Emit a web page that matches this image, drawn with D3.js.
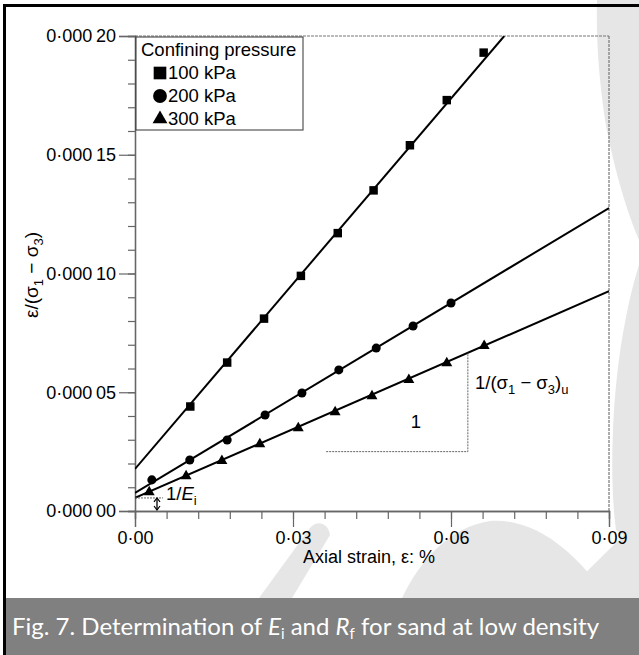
<!DOCTYPE html>
<html><head><meta charset="utf-8">
<script src="https://cdn.jsdelivr.net/npm/d3@7"></script>
<style>body{margin:0;background:#fff;}svg{display:block;}</style>
</head><body>
<script>
// ---- data ----
const series = ["100 kPa", "200 kPa", "300 kPa"];
const symbols = ["square", "circle", "triangle"];
const x100 = [0.0105, 0.0175, 0.0245, 0.0315, 0.0385, 0.0453, 0.0522, 0.0592, 0.0662];
const y100 = [0.0000440, 0.0000625, 0.0000810, 0.0000990, 0.0001170, 0.0001350, 0.0001540, 0.0001730, 0.0001930];
const x200 = [0.0032, 0.0104, 0.0175, 0.0247, 0.0317, 0.0387, 0.0458, 0.0528, 0.0600];
const y200 = [0.0000131, 0.0000215, 0.0000299, 0.0000404, 0.0000497, 0.0000594, 0.0000686, 0.0000779, 0.0000876];
const x300 = [0.0027, 0.0097, 0.0165, 0.0237, 0.0310, 0.0380, 0.0450, 0.0520, 0.0592, 0.0663];
const y300 = [0.0000080, 0.0000147, 0.0000211, 0.0000282, 0.0000349, 0.0000417, 0.0000484, 0.0000552, 0.0000623, 0.0000695];
const fitIntercept = [0.0000177, 0.0000076, 0.0000055];
const fitSlope = [0.00260, 0.001333, 0.000967];
const xTicks = [0, 0.03, 0.06, 0.09];
const xTickLabels = ["0·00", "0·03", "0·06", "0·09"];
const yTicks = [0, 0.00005, 0.0001, 0.00015, 0.0002];
const yTickLabels = ["0·000\u200900", "0·000\u200905", "0·000\u200910", "0·000\u200915", "0·000\u200920"];
const caption = "Fig. 7. Determination of ";

const W = 639, H = 655;
const svg = d3.select("body").append("svg").attr("width", W).attr("height", H);
const font = "'Liberation Sans', Arial, sans-serif";

// watermark shapes (background)
const wm = svg.append("g").attr("fill", "#e6e6e6");
wm.append("path").attr("d", "M597,0 L639,0 L639,240 C628,215 614,170 605,120 C599,80 596,40 597,0 Z");
wm.append("path").attr("d", "M639,265 C628,300 618,350 614,410 C611,460 612,500 616,530 L639,545 Z");
wm.append("path").attr("d", "M259,598 L292,598 L330,535 C328,522 316,520 310,528 Z");
wm.append("path").attr("d", "M402,598 C420,560 450,527 490,521 C535,517 580,555 606,598 Z");
wm.append("path").attr("d", "M560,598 L639,520 L639,598 Z");

// frame
svg.append("rect").attr("x", 3).attr("y", 4).attr("width", W - 3).attr("height", 3).attr("fill", "#000");
svg.append("rect").attr("x", 3).attr("y", 4).attr("width", 3).attr("height", H - 4).attr("fill", "#000");

const x = d3.scaleLinear().domain([0, 0.09]).range([135, 609]);
const y = d3.scaleLinear().domain([0, 0.0002]).range([511, 36]);

// plot border (top/right dotted)
svg.append("line").attr("x1", 135).attr("x2", 609).attr("y1", y(0.0002)).attr("y2", y(0.0002))
  .attr("stroke", "#777").attr("stroke-dasharray", "3,1").attr("stroke-width", 1.2);
svg.append("line").attr("x1", x(0.09)).attr("x2", x(0.09)).attr("y1", 36).attr("y2", 511)
  .attr("stroke", "#777").attr("stroke-dasharray", "3,1").attr("stroke-width", 1.2);

// axes
const xAxisMinor = d3.axisBottom(x).tickValues(d3.range(0, 0.0901, 0.006)).tickSize(8).tickFormat("");
const xAxis = d3.axisBottom(x).tickValues(xTicks).tickSize(16).tickPadding(4)
  .tickFormat((d, i) => xTickLabels[i]);
const yAxisMinor = d3.axisLeft(y).tickValues(d3.range(0, 0.000201, 0.00001)).tickSize(7).tickFormat("");
const yAxis = d3.axisLeft(y).tickValues(yTicks).tickSize(16).tickPadding(3)
  .tickFormat((d, i) => yTickLabels[i]);

function styleAxis(g) {
  g.select(".domain").attr("stroke", "#666").attr("stroke-width", 1.3);
  g.selectAll(".tick line").attr("stroke", "#666").attr("stroke-width", 1.2);
  g.selectAll("text").attr("font-family", font).attr("font-size", 18).attr("fill", "#000");
}
svg.append("g").attr("transform", "translate(0,511)").call(xAxisMinor).call(styleAxis);
svg.append("g").attr("transform", "translate(0,511)").call(xAxis).call(styleAxis);
svg.append("g").attr("transform", "translate(135,0)").call(yAxisMinor).call(styleAxis);
svg.append("g").attr("transform", "translate(135,0)").call(yAxis).call(styleAxis);

// axis titles
svg.append("text").attr("x", 369).attr("y", 563).attr("text-anchor", "middle")
  .attr("font-family", font).attr("font-size", 18).text("Axial strain, ε: %");
const yt = svg.append("text").attr("transform", "translate(38,275) rotate(-90)").attr("text-anchor", "middle")
  .attr("font-family", font).attr("font-size", 19);
yt.append("tspan").text("ε/(σ");
yt.append("tspan").attr("font-size", 13).attr("dy", 5).text("1");
yt.append("tspan").attr("dy", -5).text(" − σ");
yt.append("tspan").attr("font-size", 13).attr("dy", 5).text("3");
yt.append("tspan").attr("dy", -5).text(")");

// clip
svg.append("clipPath").attr("id", "clip").append("rect").attr("x", 135).attr("y", 36).attr("width", 474).attr("height", 475);

// fit lines
const plot = svg.append("g").attr("clip-path", "url(#clip)");
series.forEach((s, i) => {
  const xEnd = Math.min(0.09, (0.0002 - fitIntercept[i]) / fitSlope[i]);
  plot.append("line")
    .attr("x1", x(0)).attr("y1", y(fitIntercept[i]))
    .attr("x2", x(xEnd)).attr("y2", y(fitIntercept[i] + fitSlope[i] * xEnd))
    .attr("stroke", "#000").attr("stroke-width", 2);
});

// points
const symType = {square: d3.symbolSquare, circle: d3.symbolCircle, triangle: d3.symbolTriangle};
const symSize = {square: 72, circle: 64, triangle: 52};
const xs = [x100, x200, x300], ys = [y100, y200, y300];
series.forEach((s, i) => {
  const sym = d3.symbol().type(symType[symbols[i]]).size(symSize[symbols[i]]);
  svg.append("g").selectAll("path").data(xs[i].map((v, j) => [v, ys[i][j]])).join("path")
    .attr("transform", d => `translate(${x(d[0])},${y(d[1])})`)
    .attr("d", sym).attr("fill", "#000");
});

// legend
svg.append("rect").attr("x", 136).attr("y", 37).attr("width", 167).attr("height", 93)
  .attr("fill", "#fff").attr("stroke", "#333").attr("stroke-width", 1);
svg.append("text").attr("x", 141).attr("y", 56).attr("font-family", font).attr("font-size", 18.5).text("Confining pressure");
const legY = [79, 102, 125];
const legSize = {square: 160, circle: 150, triangle: 95};
series.forEach((s, i) => {
  svg.append("path").attr("transform", `translate(160,${legY[i] - 6})`)
    .attr("d", d3.symbol().type(symType[symbols[i]]).size(legSize[symbols[i]])).attr("fill", "#000");
  svg.append("text").attr("x", 168).attr("y", legY[i]).attr("font-family", font).attr("font-size", 18.5).text(s);
});

// slope triangle annotation for 300 kPa
const ax1 = 0.0363, ax2 = 0.0632, ay = 0.0000250;
svg.append("path").attr("d", `M${x(ax1)},${y(ay)} L${x(ax2)},${y(ay)} L${x(ax2)},${y(fitIntercept[2] + fitSlope[2] * ax2)}`)
  .attr("fill", "none").attr("stroke", "#666").attr("stroke-width", 1).attr("stroke-dasharray", "2,1");
svg.append("text").attr("x", 416).attr("y", 428).attr("text-anchor", "middle").attr("font-family", font).attr("font-size", 18.5).text("1");
const lab = svg.append("text").attr("x", 475).attr("y", 389).attr("font-family", font).attr("font-size", 18.5);
lab.append("tspan").text("1/(σ");
lab.append("tspan").attr("font-size", 13).attr("dy", 5).text("1");
lab.append("tspan").attr("dy", -5).text(" − σ");
lab.append("tspan").attr("font-size", 13).attr("dy", 5).text("3");
lab.append("tspan").attr("dy", -5).text(")");
lab.append("tspan").attr("font-size", 13).attr("dy", 5).text("u");

// 1/Ei annotation
svg.append("line").attr("x1", 135).attr("x2", 163).attr("y1", y(fitIntercept[2])).attr("y2", y(fitIntercept[2]))
  .attr("stroke", "#666").attr("stroke-dasharray", "2,1");
const ex = 157;
svg.append("line").attr("x1", ex).attr("x2", ex).attr("y1", y(fitIntercept[2]) + 1).attr("y2", 510).attr("stroke", "#000").attr("stroke-width", 1.3);
svg.append("path").attr("d", `M${ex-3},${y(fitIntercept[2])+4} L${ex},${y(fitIntercept[2])} L${ex+3},${y(fitIntercept[2])+4} M${ex-3},506 L${ex},510 L${ex+3},506`)
  .attr("fill", "none").attr("stroke", "#000").attr("stroke-width", 1.2);
const ei = svg.append("text").attr("x", 166).attr("y", 500).attr("font-family", font).attr("font-size", 18.5);
ei.append("tspan").text("1/");
ei.append("tspan").attr("font-style", "italic").text("E");
ei.append("tspan").attr("font-size", 13).attr("dy", 5).text("i");

// caption band
svg.append("rect").attr("x", 6).attr("y", 598).attr("width", W - 6).attr("height", H - 598).attr("fill", "#808080");
const cap = svg.append("text").attr("x", 12).attr("y", 635).attr("fill", "#fff")
  .attr("font-family", "Lato, 'Open Sans', sans-serif").attr("font-size", 24);
cap.append("tspan").text(caption);
cap.append("tspan").attr("font-style", "italic").text("E");
cap.append("tspan").attr("font-size", 15).attr("dy", 4).text("i");
cap.append("tspan").attr("dy", -4).text(" and ");
cap.append("tspan").attr("font-style", "italic").text("R");
cap.append("tspan").attr("font-size", 15).attr("dy", 4).text("f");
cap.append("tspan").attr("dy", -4).text(" for sand at low density");
</script>
</body></html>
